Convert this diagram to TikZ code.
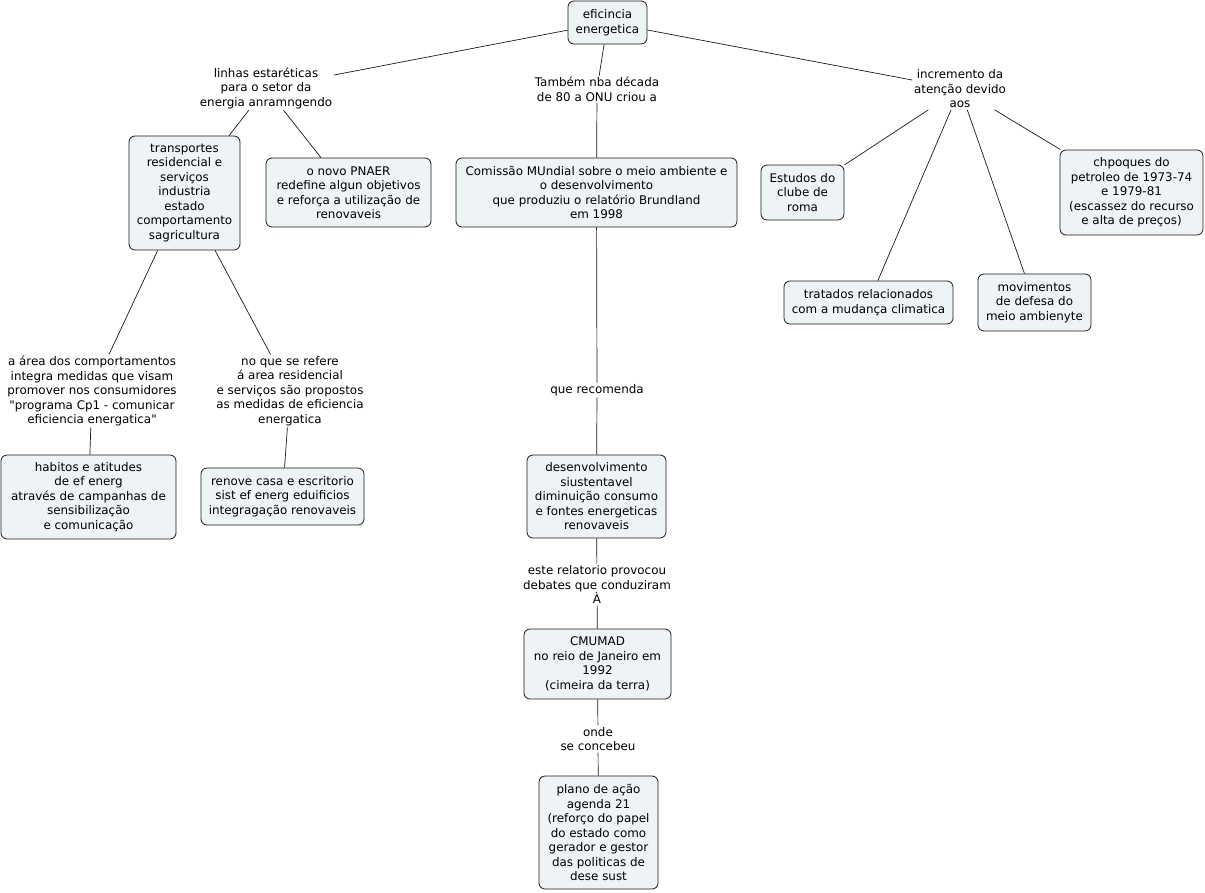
\documentclass[tikz,border=0pt]{standalone}
\usepackage{fontspec}
\setmainfont{DejaVu Sans}
\newfontfamily\plainqf{DejaVu Sans}
\definecolor{boxfill}{HTML}{EEF3F6}
\definecolor{linecol}{HTML}{1A1A1A}
\newcommand{\dq}{{\plainqf"}}
\begin{document}
\begin{tikzpicture}[x=1pt,y=-1pt,
  every node/.style={font=\fontsize{11.9}{14.5}\selectfont, align=center, text=black},
  cbox/.style={draw=linecol, fill=boxfill, rounded corners=6pt, line width=0.8pt, inner sep=0pt},
  lbl/.style={inner sep=1.5pt},
  conn/.style={draw=linecol, line width=0.7pt}]
\useasboundingbox (0,0) rectangle (1205,892);
% boxes
\node[cbox, minimum width=79pt, minimum height=43pt] (ef) at (607.5,22.5) {eficincia\\energetica};
\node[cbox, minimum width=111pt, minimum height=114pt] (tr) at (184.5,193) {transportes\\residencial e\\serviços\\industria\\estado\\comportamento\\sagricultura};
\node[cbox, minimum width=165pt, minimum height=69pt] (pn) at (348.5,192.5) {o novo PNAER\\redefine algun objetivos\\e reforça a utilização de\\renovaveis};
\node[cbox, minimum width=281pt, minimum height=69pt] (cm) at (596.5,192.5) {Comissão MUndial sobre o meio ambiente e\\o desenvolvimento\\que produziu o relatório Brundland\\em 1998};
\node[cbox, minimum width=83pt, minimum height=55pt] (es) at (802.5,192.5) {Estudos do\\clube de\\roma};
\node[cbox, minimum width=143pt, minimum height=85pt] (ch) at (1131.5,192.5) {chpoques do\\petroleo de 1973-74\\e 1979-81\\(escassez do recurso\\e alta de preços)};
\node[cbox, minimum width=169pt, minimum height=43pt] (tt) at (868.5,302.5) {tratados relacionados\\com a mudança climatica};
\node[cbox, minimum width=113pt, minimum height=57pt] (mv) at (1034.5,302.5) {movimentos\\de defesa do\\meio ambienyte};
\node[cbox, minimum width=175pt, minimum height=84pt] (hb) at (88.5,497) {habitos e atitudes\\de ef energ\\através de campanhas de\\sensibilização\\e comunicação};
\node[cbox, minimum width=163pt, minimum height=57pt] (rn) at (282.5,496.5) {renove casa e escritorio\\sist ef energ eduificios\\integragação renovaveis};
\node[cbox, minimum width=139pt, minimum height=83pt] (ds) at (596.5,496.5) {desenvolvimento\\siustentavel\\diminuição consumo\\e fontes energeticas\\renovaveis};
\node[cbox, minimum width=147pt, minimum height=70pt] (cu) at (597.5,664) {CMUMAD\\no reio de Janeiro em\\1992\\(cimeira da terra)};
\node[cbox, minimum width=119pt, minimum height=113pt] (pl) at (598.5,832.5) {plano de ação\\agenda 21\\(reforço do papel\\do estado como\\gerador e gestor\\das politicas de\\dese sust};
% labels
\node[lbl] (l1) at (266,88) {linhas estaréticas\\para o setor da\\energia anramngendo};
\node[lbl] (l2) at (597,89.5) {Também nba década\\de 80 a ONU criou a};
\node[lbl] (l3) at (960,89) {incremento da\\atenção devido\\aos};
\node[lbl] (l4) at (92,391) {a área dos comportamentos\\integra medidas que visam\\promover nos consumidores\\\dq programa Cp1 - comunicar\\eficiencia energatica\dq};
\node[lbl] (l5) at (290,391) {no que se refere\\á area residencial\\e serviços são propostos\\as medidas de eficiencia\\energatica};
\node[lbl] (l6) at (597,390) {que recomenda};
\node[lbl] (l7) at (597,584.5) {este relatorio provocou\\debates que conduziram\\À};
\node[lbl] (l8) at (598,739) {onde\\se concebeu};
% connectors
\draw[conn] (ef) -- (l1);
\draw[conn] (ef) -- (l2);
\draw[conn] (ef) -- (l3);
\draw[conn] (l1) -- (tr);
\draw[conn] (l1) -- (pn);
\draw[conn] (l2) -- (cm);
\draw[conn] (l3) -- (es);
\draw[conn] (l3) -- (tt);
\draw[conn] (l3) -- (mv);
\draw[conn] (l3) -- (ch);
\draw[conn] (tr) -- (l4);
\draw[conn] (tr) -- (l5);
\draw[conn] (l4) -- (hb);
\draw[conn] (l5) -- (rn);
\draw[conn] (cm) -- (l6);
\draw[conn] (l6) -- (ds);
\draw[conn] (ds) -- (l7);
\draw[conn] (l7) -- (cu);
\draw[conn] (cu) -- (l8);
\draw[conn] (l8) -- (pl);
\end{tikzpicture}
\end{document}
